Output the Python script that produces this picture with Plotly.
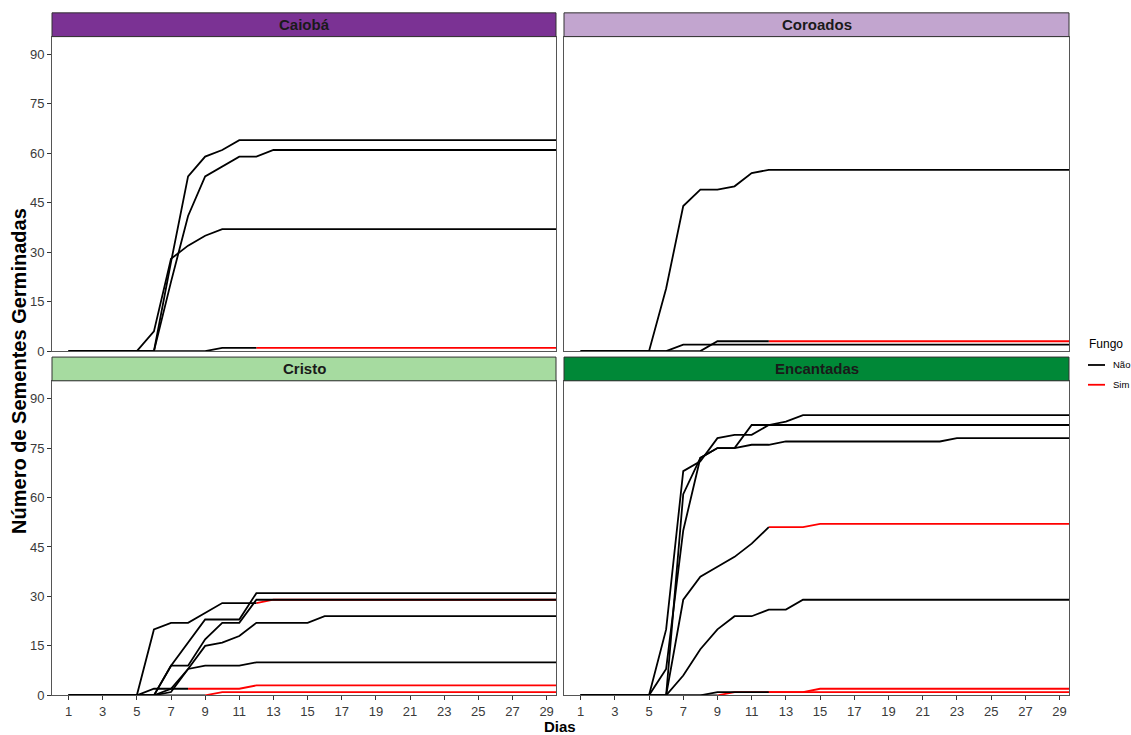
import plotly.graph_objects as go

# Days of observation
dias = list(range(1, 31))

# Cumulative germinated seeds per replicate (days 1..30) and the day from
# which the replicate is flagged with fungus (None = never).
caioba_r1 = [0, 0, 0, 0, 0, 0, 27, 53, 59, 61, 64, 64, 64, 64, 64, 64, 64, 64, 64, 64, 64, 64, 64, 64, 64, 64, 64, 64, 64, 64]
caioba_r2 = [0, 0, 0, 0, 0, 0, 21, 41, 53, 56, 59, 59, 61, 61, 61, 61, 61, 61, 61, 61, 61, 61, 61, 61, 61, 61, 61, 61, 61, 61]
caioba_r3 = [0, 0, 0, 0, 0, 6, 28, 32, 35, 37, 37, 37, 37, 37, 37, 37, 37, 37, 37, 37, 37, 37, 37, 37, 37, 37, 37, 37, 37, 37]
caioba_r4 = [0, 0, 0, 0, 0, 0, 0, 0, 0, 1, 1, 1, 1, 1, 1, 1, 1, 1, 1, 1, 1, 1, 1, 1, 1, 1, 1, 1, 1, 1]

coroados_r1 = [0, 0, 0, 0, 0, 19, 44, 49, 49, 50, 54, 55, 55, 55, 55, 55, 55, 55, 55, 55, 55, 55, 55, 55, 55, 55, 55, 55, 55, 55]
coroados_r2 = [0, 0, 0, 0, 0, 0, 2, 2, 2, 2, 2, 2, 2, 2, 2, 2, 2, 2, 2, 2, 2, 2, 2, 2, 2, 2, 2, 2, 2, 2]
coroados_r3 = [0, 0, 0, 0, 0, 0, 0, 0, 3, 3, 3, 3, 3, 3, 3, 3, 3, 3, 3, 3, 3, 3, 3, 3, 3, 3, 3, 3, 3, 3]

cristo_r1 = [0, 0, 0, 0, 0, 20, 22, 22, 25, 28, 28, 28, 29, 29, 29, 29, 29, 29, 29, 29, 29, 29, 29, 29, 29, 29, 29, 29, 29, 29]
cristo_r2 = [0, 0, 0, 0, 0, 0, 9, 16, 23, 23, 23, 31, 31, 31, 31, 31, 31, 31, 31, 31, 31, 31, 31, 31, 31, 31, 31, 31, 31, 31]
cristo_r3 = [0, 0, 0, 0, 0, 0, 9, 9, 17, 22, 22, 29, 29, 29, 29, 29, 29, 29, 29, 29, 29, 29, 29, 29, 29, 29, 29, 29, 29, 29]
cristo_r4 = [0, 0, 0, 0, 0, 0, 2, 8, 15, 16, 18, 22, 22, 22, 22, 24, 24, 24, 24, 24, 24, 24, 24, 24, 24, 24, 24, 24, 24, 24]
cristo_r5 = [0, 0, 0, 0, 0, 0, 1, 8, 9, 9, 9, 10, 10, 10, 10, 10, 10, 10, 10, 10, 10, 10, 10, 10, 10, 10, 10, 10, 10, 10]
cristo_r6 = [0, 0, 0, 0, 0, 2, 2, 2, 2, 2, 2, 3, 3, 3, 3, 3, 3, 3, 3, 3, 3, 3, 3, 3, 3, 3, 3, 3, 3, 3]
cristo_r7 = [0, 0, 0, 0, 0, 0, 0, 0, 0, 1, 1, 1, 1, 1, 1, 1, 1, 1, 1, 1, 1, 1, 1, 1, 1, 1, 1, 1, 1, 1]

encantadas_r1 = [0, 0, 0, 0, 0, 20, 68, 71, 78, 79, 79, 82, 83, 85, 85, 85, 85, 85, 85, 85, 85, 85, 85, 85, 85, 85, 85, 85, 85, 85]
encantadas_r2 = [0, 0, 0, 0, 0, 8, 50, 72, 75, 75, 76, 76, 77, 77, 77, 77, 77, 77, 77, 77, 77, 77, 78, 78, 78, 78, 78, 78, 78, 78]
encantadas_r3 = [0, 0, 0, 0, 0, 0, 61, 72, 75, 75, 82, 82, 82, 82, 82, 82, 82, 82, 82, 82, 82, 82, 82, 82, 82, 82, 82, 82, 82, 82]
encantadas_r4 = [0, 0, 0, 0, 0, 0, 29, 36, 39, 42, 46, 51, 51, 51, 52, 52, 52, 52, 52, 52, 52, 52, 52, 52, 52, 52, 52, 52, 52, 52]
encantadas_r5 = [0, 0, 0, 0, 0, 0, 6, 14, 20, 24, 24, 26, 26, 29, 29, 29, 29, 29, 29, 29, 29, 29, 29, 29, 29, 29, 29, 29, 29, 29]
encantadas_r6 = [0, 0, 0, 0, 0, 0, 0, 0, 1, 1, 1, 1, 1, 1, 2, 2, 2, 2, 2, 2, 2, 2, 2, 2, 2, 2, 2, 2, 2, 2]
encantadas_r7 = [0, 0, 0, 0, 0, 0, 0, 0, 0, 1, 1, 1, 1, 1, 1, 1, 1, 1, 1, 1, 1, 1, 1, 1, 1, 1, 1, 1, 1, 1]

locais = ["Caiobá", "Coroados", "Cristo", "Encantadas"]
cores_faixa = ["#7B3294", "#C2A5CF", "#A6DBA0", "#008837"]

replicas = {
    "Caiobá": [(caioba_r1, None), (caioba_r2, None), (caioba_r3, None), (caioba_r4, 12)],
    "Coroados": [(coroados_r1, None), (coroados_r2, None), (coroados_r3, 12)],
    "Cristo": [(cristo_r1, 12), (cristo_r2, None), (cristo_r3, None), (cristo_r4, None),
               (cristo_r5, None), (cristo_r6, 8), (cristo_r7, 9)],
    "Encantadas": [(encantadas_r1, None), (encantadas_r2, None), (encantadas_r3, None),
                   (encantadas_r4, 12), (encantadas_r5, None), (encantadas_r6, 12),
                   (encantadas_r7, 9)],
}

y_ticks = [0, 15, 30, 45, 60, 75, 90]
x_ticks = list(range(1, 30, 2))

W, H = 1131, 735
COR_NAO = "#000000"
COR_SIM = "#FF0000"
FONTE = "Liberation Sans, Arial, sans-serif"

# Panel boxes in pixels: (left, right, top, bottom)
paineis = [(52, 556, 37, 355), (564, 1069, 37, 355), (52, 556, 385, 703), (564, 1069, 385, 703)]
ALT_FAIXA = 24


def px_x(p):
    return p / W


def px_y(p):
    return 1 - p / H


fig = go.Figure()

for i, local in enumerate(locais):
    n = i + 1
    xa = "x" if n == 1 else f"x{n}"
    ya = "y" if n == 1 else f"y{n}"
    # red (fungus) segments first, black drawn over them
    for camada in ("Sim", "Não"):
        for valores, dia_sim in replicas[local]:
            if camada == "Sim":
                if dia_sim is None:
                    continue
                idx = dias.index(dia_sim)
                xs, ys, cor = dias[idx:], valores[idx:], COR_SIM
            else:
                idx = len(dias) if dia_sim is None else dias.index(dia_sim) + 1
                xs, ys, cor = dias[:idx], valores[:idx], COR_NAO
            fig.add_trace(go.Scatter(
                x=xs, y=ys, mode="lines", xaxis=xa, yaxis=ya,
                line=dict(color=cor, width=1.8), showlegend=False, hoverinfo="skip",
            ))

eixo_font = dict(family=FONTE, size=13, color="#3A3A3A")

layout_axes = {}
for i, (l, r, t, b) in enumerate(paineis):
    n = i + 1
    xk = "xaxis" if n == 1 else f"xaxis{n}"
    yk = "yaxis" if n == 1 else f"yaxis{n}"
    ya = "y" if n == 1 else f"y{n}"
    xa = "x" if n == 1 else f"x{n}"
    inferior = n >= 3
    esquerda = n in (1, 3)
    layout_axes[xk] = dict(
        domain=[px_x(l), px_x(r)], anchor=ya, range=[0.03, 29.55],
        tickvals=x_ticks, showticklabels=inferior, ticks="outside" if inferior else "",
        ticklen=4, tickcolor="#333333", tickfont=eixo_font,
        showgrid=False, zeroline=False, showline=True, linecolor="#555555", linewidth=1, mirror=True,
    )
    layout_axes[yk] = dict(
        domain=[px_y(b), px_y(t)], anchor=xa, range=[0, 95.4],
        tickvals=y_ticks, showticklabels=esquerda, ticks="outside" if esquerda else "",
        ticklen=4, tickcolor="#333333", tickfont=eixo_font,
        showgrid=False, zeroline=False, showline=True, linecolor="#555555", linewidth=1, mirror=True,
    )

shapes = []
annotations = []
for i, (l, r, t, b) in enumerate(paineis):
    shapes.append(dict(
        type="rect", xref="paper", yref="paper",
        x0=px_x(l), x1=px_x(r), y0=px_y(t), y1=px_y(t - ALT_FAIXA),
        fillcolor=cores_faixa[i], line=dict(color="#333333", width=1), layer="above",
    ))
    annotations.append(dict(
        text=f"<b>{locais[i]}</b>", xref="paper", yref="paper",
        x=px_x((l + r) / 2), y=px_y(t - ALT_FAIXA / 2), showarrow=False,
        xanchor="center", yanchor="middle",
        font=dict(family=FONTE, size=15, color="#1A1A1A"),
    ))

# Axis titles
annotations.append(dict(
    text="<b>Dias</b>", xref="paper", yref="paper", x=px_x(560), y=0,
    showarrow=False, xanchor="center", yanchor="bottom", borderpad=0, yshift=-9,
    font=dict(family=FONTE, size=15, color="#000000"),
))
annotations.append(dict(
    text="<b>Número de Sementes Germinadas</b>", xref="paper", yref="paper",
    x=px_x(19), y=px_y(375), showarrow=False, textangle=-90,
    xanchor="center", yanchor="middle",
    font=dict(family=FONTE, size=20, color="#000000"),
))

# Legend for the fungus flag
annotations.append(dict(
    text="Fungo", xref="paper", yref="paper", x=px_x(1087), y=px_y(348),
    showarrow=False, xanchor="left", yanchor="middle",
    font=dict(family=FONTE, size=12, color="#000000"),
))
for rotulo, cor, yy in (("Não", COR_NAO, 369), ("Sim", COR_SIM, 389)):
    shapes.append(dict(
        type="line", xref="paper", yref="paper",
        x0=px_x(1088), x1=px_x(1105), y0=px_y(yy), y1=px_y(yy),
        line=dict(color=cor, width=1.8),
    ))
    annotations.append(dict(
        text=rotulo, xref="paper", yref="paper", x=px_x(1111), y=px_y(yy),
        showarrow=False, xanchor="left", yanchor="middle",
        font=dict(family=FONTE, size=9.5, color="#000000"),
    ))

fig.update_layout(
    width=W, height=H,
    margin=dict(l=0, r=0, t=0, b=0),
    paper_bgcolor="white", plot_bgcolor="white",
    showlegend=False,
    shapes=shapes, annotations=annotations,
    **layout_axes,
)

fig.write_html("out.html")
